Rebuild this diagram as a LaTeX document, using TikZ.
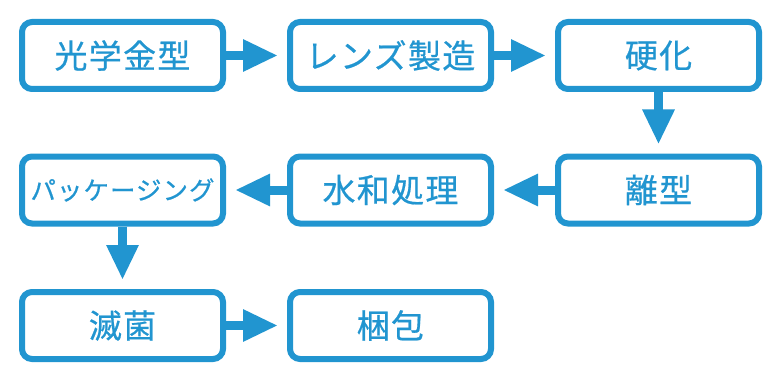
\documentclass[tikz,border=0pt]{standalone}
\usepackage{fontspec}
\newfontfamily\cjk[LetterSpace=4,FakeBold=0.6]{Noto Sans CJK JP}
\usetikzlibrary{arrows.meta}
\definecolor{flowblue}{RGB}{33,149,208}
\tikzset{
  stepbox/.style={draw=flowblue, line width=6pt, rounded corners=10pt, minimum width=201pt, minimum height=67pt, text=flowblue, font=\cjk\fontsize{33}{33}\selectfont, inner sep=0pt},
  flowarrow/.style={draw=flowblue, line width=9pt, -{Triangle[length=35pt,width=30pt]}, shorten >=9pt}
}
\begin{document}
\begin{tikzpicture}[x=1pt,y=-1pt]
\useasboundingbox (0,0) rectangle (778,377);
\node[stepbox] (a) at (122.5,55.5) {光学金型};
\node[stepbox] (b) at (390.5,55.5) {レンズ製造};
\node[stepbox] (c) at (658.5,55.5) {硬化};
\node[stepbox] (d) at (658.5,190) {離型};
\node[stepbox] (e) at (390.5,190) {水和処理};
\node[stepbox, font=\cjk\fontsize{25.5}{25.5}\selectfont] (f) at (122.5,190) {パッケージング};
\node[stepbox] (g) at (122.5,325.5) {滅菌};
\node[stepbox] (h) at (390.5,325.5) {梱包};
\draw[flowarrow] (a) -- (b);
\draw[flowarrow] (b) -- (c);
\draw[flowarrow] (c) -- (d);
\draw[flowarrow] (d) -- (e);
\draw[flowarrow] (e) -- (f);
\draw[flowarrow] (f) -- (g);
\draw[flowarrow] (g) -- (h);
\end{tikzpicture}
\end{document}
